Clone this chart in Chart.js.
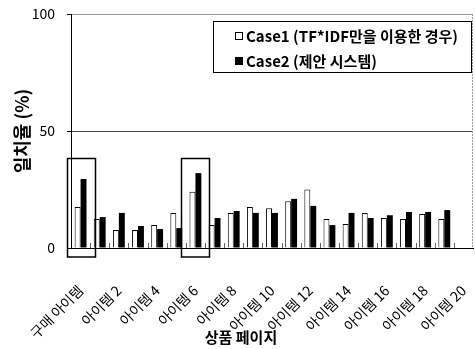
<!DOCTYPE html>
<html>
<head>
<meta charset="utf-8">
<script src="https://cdn.jsdelivr.net/npm/chart.js@4"></script>
<style>
  html, body { margin: 0; padding: 0; background: #fff; }
  #wrap { width: 475px; height: 349px; }
</style>
</head>
<body>
<div id="wrap"><canvas id="chart"></canvas></div>
<script>
const categories = ['구매 아이템', '아이템 1', '아이템 2', '아이템 3', '아이템 4', '아이템 5', '아이템 6',
  '아이템 7', '아이템 8', '아이템 9', '아이템 10', '아이템 11', '아이템 12', '아이템 13', '아이템 14',
  '아이템 15', '아이템 16', '아이템 17', '아이템 18', '아이템 19', '아이템 20'];
const case1Values = [17.5, 12.4, 7.7, 7.7, 9.8, 15, 24, 9.8, 15, 17.5, 17, 20, 25, 12.4, 10.3, 15, 12.8, 12.4, 14.5, 12.4, null];
const case2Values = [29.5, 13.2, 15, 9.4, 8.1, 8.5, 32, 12.8, 15.8, 15, 15, 21, 18, 9.8, 15, 12.8, 14, 15.4, 15.4, 16.2, null];
const yTicks = [0, 50, 100];
const highlighted = [0, 6];
const highlightTop = 38.5;

const fontKR = "'Noto Sans CJK KR', 'Noto Sans', sans-serif";
Chart.defaults.font.family = fontKR;
Chart.defaults.color = '#000';

// plot frame, category separators and highlight boxes
const framePlugin = {
  id: 'frame',
  afterDatasetsDraw(chart) {
    const { ctx, chartArea: a, scales: { x, y } } = chart;
    ctx.save();
    ctx.lineWidth = 1;
    ctx.strokeStyle = '#999';
    ctx.setLineDash([2, 1]);
    ctx.beginPath();
    ctx.moveTo(a.right - 0.5, a.top);
    ctx.lineTo(a.right - 0.5, a.bottom);
    ctx.stroke();
    ctx.setLineDash([]);

    ctx.strokeStyle = '#666';
    ctx.beginPath();
    for (let i = 1; i < categories.length; i++) {
      const px = Math.round((x.getPixelForValue(i - 1) + x.getPixelForValue(i)) / 2) + 0.5;
      ctx.moveTo(px, a.bottom);
      ctx.lineTo(px, a.bottom - 5);
    }
    ctx.stroke();

    ctx.strokeStyle = '#000';
    ctx.lineWidth = 1.5;
    highlighted.forEach(i => {
      const cx = x.getPixelForValue(i);
      const top = Math.round(y.getPixelForValue(highlightTop)) + 0.5;
      ctx.strokeRect(Math.round(cx - 14) + 0.5, top, 28, a.bottom + 9 - top);
    });
    ctx.restore();
  },
  afterDraw(chart) {
    const { ctx, chartArea: a } = chart;
    ctx.save();
    // legend
    const bx = a.right - 260, by = a.top + 7, bw = 258, bh = 51;
    ctx.strokeStyle = '#000';
    ctx.lineWidth = 1;
    ctx.strokeRect(bx + 0.5, by + 0.5, bw, bh);
    ctx.font = 'bold 15px ' + fontKR;
    ctx.textBaseline = 'middle';
    chart.data.datasets.forEach((ds, i) => {
      const ly = by + 15 + i * 25;
      if (i === 0) {
        ctx.fillStyle = '#fff';
        ctx.fillRect(bx + 22.5, ly - 3.5, 7, 7);
        ctx.strokeRect(bx + 22.5, ly - 3.5, 7, 7);
      } else {
        ctx.fillStyle = '#000';
        ctx.fillRect(bx + 22, ly - 4, 8, 8);
      }
      ctx.fillStyle = '#000';
      ctx.fillText(ds.label, bx + 33, ly);
    });
    // x axis title
    ctx.font = 'bold 15px ' + fontKR;
    ctx.textAlign = 'center';
    ctx.fillText('상품 페이지', a.left + 170, 337);
    ctx.restore();
  }
};

new Chart(document.getElementById('chart'), {
  type: 'bar',
  data: {
    labels: categories,
    datasets: [
      {
        label: 'Case1 (TF*IDF만을 이용한 경우)',
        data: case1Values,
        backgroundColor: '#fff',
        borderColor: '#000',
        borderWidth: 1,
        categoryPercentage: 0.62,
        barPercentage: 1.0
      },
      {
        label: 'Case2 (제안 시스템)',
        data: case2Values,
        backgroundColor: '#000',
        borderColor: '#000',
        borderWidth: 0,
        categoryPercentage: 0.62,
        barPercentage: 1.0
      }
    ]
  },
  options: {
    responsive: true,
    maintainAspectRatio: false,
    animation: false,
    layout: { padding: { top: 14, right: 2, left: 0, bottom: 0 } },
    plugins: {
      legend: { display: false },
      tooltip: { enabled: false }
    },
    scales: {
      x: {
        afterFit(scale) {
          scale.height = 101;
          scale.paddingLeft = 0;
          scale.paddingRight = 0;
        },
        grid: { display: false },
        border: { color: '#000', width: 1 },
        ticks: {
          autoSkip: false,
          maxRotation: 45,
          minRotation: 45,
          padding: 26,
          font: { size: 14 },
          callback: (v, i) => (i % 2 === 0 ? categories[i] : '')
        }
      },
      y: {
        min: 0,
        max: 100,
        afterBuildTicks(scale) { scale.ticks = yTicks.map(v => ({ value: v })); },
        afterFit(scale) {
          scale.width = 71;
          scale.paddingTop = 0;
          scale.paddingBottom = 0;
        },
        ticks: { padding: 12, font: { size: 14 } },
        grid: {
          color: c => (c.tick.value === 50 ? '#444' : c.tick.value === 100 ? '#999' : 'transparent'),
          tickColor: '#000',
          tickLength: 4
        },
        border: { color: '#000', width: 1 },
        title: {
          display: true,
          text: '일치율 (%)',
          font: { size: 18, weight: 'bold' },
          padding: { top: 11, bottom: 0 }
        }
      }
    }
  },
  plugins: [framePlugin]
});
</script>
</body>
</html>
